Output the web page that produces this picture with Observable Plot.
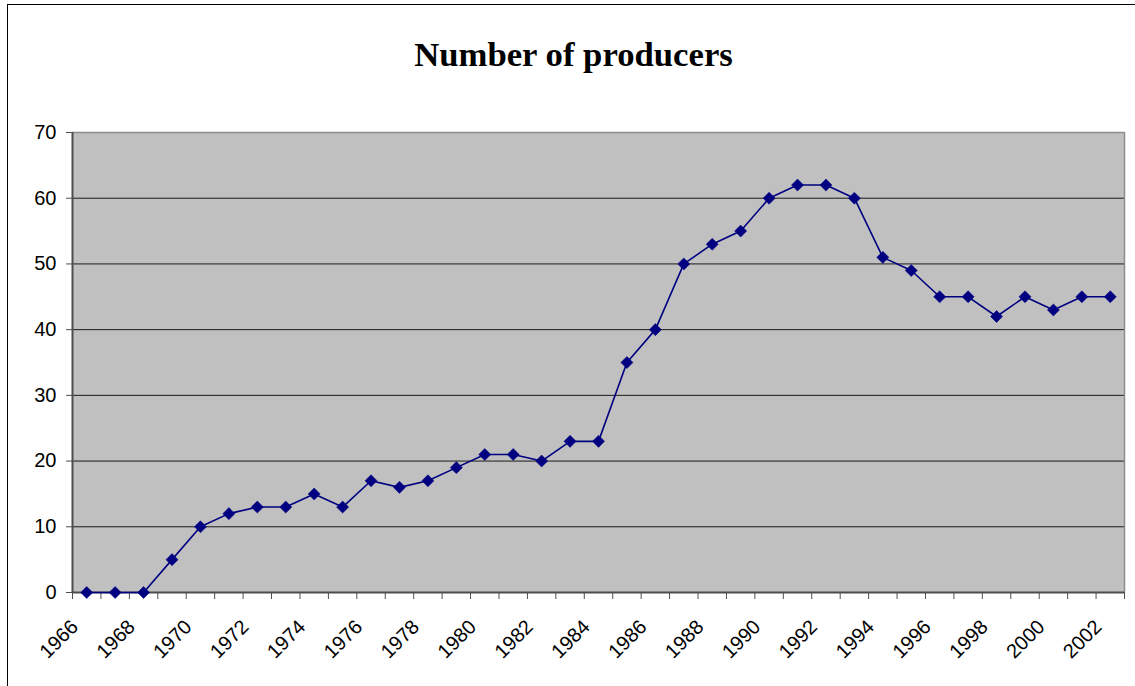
<!DOCTYPE html>
<html>
<head>
<meta charset="utf-8">
<script src="https://cdn.jsdelivr.net/npm/d3@7"></script>
<script src="https://cdn.jsdelivr.net/npm/@observablehq/plot@0.6"></script>
<style>
  html, body { margin: 0; padding: 0; background: #fff; }
  #wrap { position: relative; width: 1135px; height: 686px; overflow: hidden; }
  #border { position: absolute; left: 7px; top: 4px; width: 2000px; height: 2000px; border-left: 1px solid #000; border-top: 1px solid #000; }
  #title { position: absolute; left: 0; width: 1147px; top: 38px; text-align: center; line-height: 1;
    font-family: "Liberation Serif", "Times New Roman", serif; font-weight: bold; font-size: 34.7px; color: #000; }
  #chart { position: absolute; left: 0; top: 0; }
  #chart svg text { font-size: 20px; fill: #000; }
</style>
</head>
<body>
<div id="wrap">
  <div id="border"></div>
  <div id="chart"></div>
  <div id="title">Number of producers</div>
</div>
<script>
const years = [1966,1967,1968,1969,1970,1971,1972,1973,1974,1975,1976,1977,1978,1979,1980,1981,1982,1983,1984,1985,1986,1987,1988,1989,1990,1991,1992,1993,1994,1995,1996,1997,1998,1999,2000,2001,2002];
const producers = [0,0,0,5,10,12,13,13,15,13,17,16,17,19,21,21,20,23,23,35,40,50,53,55,60,62,62,60,51,49,45,45,42,45,43,45,45];
const yTicks = [0,10,20,30,40,50,60,70];

const data = years.map((year, i) => ({year, value: producers[i]}));
const labelYears = years.filter((y, i) => i % 2 === 0);
const boundaries = years.map(y => y - 0.5).concat([years[years.length - 1] + 0.5]);
const x0 = years[0] - 0.5, x1 = years[years.length - 1] + 0.5;
const y0 = yTicks[0], y1 = yTicks[yTicks.length - 1];

const diamond = {
  draw(context, size) {
    const r = Math.sqrt(size / Math.PI) * 1.1;
    context.moveTo(0, -r);
    context.lineTo(r, 0);
    context.lineTo(0, r);
    context.lineTo(-r, 0);
    context.closePath();
  }
};

const chart = Plot.plot({
  width: 1135,
  height: 686,
  marginLeft: 72,
  marginRight: 11,
  marginTop: 132,
  marginBottom: 94,
  style: {fontFamily: "'Liberation Sans', Arial, sans-serif", fontSize: "20px", color: "#000", background: "transparent"},
  x: {type: "linear", domain: [x0, x1]},
  y: {domain: [y0, y1]},
  marks: [
    Plot.frame({fill: "#c0c0c0", stroke: null}),
    Plot.ruleY(yTicks.filter(t => t !== y0 && t !== y1), {stroke: "#1a1a1a", strokeWidth: 1}),
    Plot.ruleY([y1], {stroke: "#8c8c8c", strokeWidth: 1.5}),
    Plot.ruleX([x1], {stroke: "#8c8c8c", strokeWidth: 1.5}),
    Plot.ruleX([x0], {stroke: "#4d4d4d", strokeWidth: 2}),
    Plot.ruleY([y0], {stroke: "#4d4d4d", strokeWidth: 2}),
    Plot.axisY(yTicks, {tickSize: 6, tickPadding: 10, stroke: "#4d4d4d", fill: "#000", fontSize: 20, label: null, tickFormat: d => String(d)}),
    Plot.axisX(boundaries, {tickSize: 7, tickFormat: () => "", stroke: "#4d4d4d", label: null}),
    Plot.axisX(labelYears, {tickSize: 0, tickPadding: 24, tickRotate: -45, fill: "#000", fontSize: 20, label: null, dx: -12, dy: 7, tickFormat: d => String(d)}),
    Plot.line(data, {x: "year", y: "value", stroke: "#000080", strokeWidth: 1.6}),
    Plot.dot(data, {x: "year", y: "value", symbol: diamond, r: 5.5, fill: "#000080", stroke: "#000080", strokeWidth: 0.5})
  ]
});
document.getElementById("chart").appendChild(chart);
</script>
</body>
</html>
